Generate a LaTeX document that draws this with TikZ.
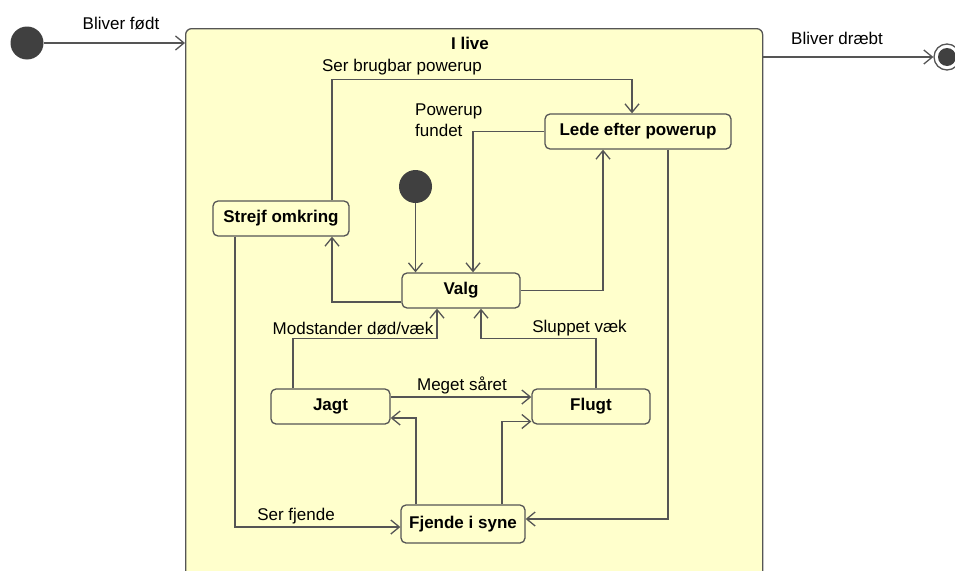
\documentclass[tikz,border=0pt]{standalone}
\usepackage{fontspec}
\setmainfont{Liberation Sans}
\usetikzlibrary{arrows.meta}
\definecolor{statefill}{HTML}{FFFFCC}
\definecolor{edgegray}{HTML}{555555}
\definecolor{dotgray}{HTML}{404040}

\begin{document}
\begin{tikzpicture}[x=1pt,y=-1pt,
  state/.style={draw=edgegray, fill=statefill, line width=1.3pt, rounded corners=5pt,
    font=\fontsize{17}{20}\selectfont\bfseries, inner sep=0pt},
  trans/.style={draw=edgegray, line width=1.3pt,
    -{Straight Barb[length=8.5pt,width=14pt,line width=1.3pt]}},
  lbl/.style={font=\fontsize{17}{21}\selectfont, inner sep=0pt, text=black},
  initdot/.style={circle, fill=dotgray, minimum size=33pt, inner sep=0pt}]
\useasboundingbox (0,0) rectangle (955,570);

% composite state
\node[draw=edgegray, fill=statefill, line width=1.3pt, rounded corners=6pt,
      minimum width=577pt, minimum height=580pt, anchor=north west, inner sep=0pt]
      (alive) at (185,28) {};
\node[lbl, font=\fontsize{17}{21}\selectfont\bfseries] (alivetitle) at (470,43) {I live};

% outer start and end
\node[initdot] (start) at (27,43) {};
\node[circle, draw=edgegray, fill=white, line width=1.3pt, minimum size=26pt, inner sep=0pt] (final) at (947,57) {};
\fill[dotgray] (final.center) circle (9pt);

% inner states
\node[initdot] (init) at (415.5,186.5) {};
\node[state, minimum width=186pt, minimum height=35pt] (lede) at (638,131.5) {Lede efter powerup};
\node[state, minimum width=136pt, minimum height=35pt] (strejf) at (281,218.5) {Strejf omkring};
\node[state, minimum width=118pt, minimum height=35pt] (valg) at (461,290.5) {Valg};
\node[state, minimum width=119pt, minimum height=35pt] (jagt) at (330.5,406.5) {Jagt};
\node[state, minimum width=118pt, minimum height=35pt] (flugt) at (591,406.5) {Flugt};
\node[state, minimum width=124pt, minimum height=38pt] (fjende) at (463,524) {Fjende i syne};

% transitions
\draw[trans] (start) -- (start -| alive.west);
\draw[trans] (final -| alive.east) -- (final.west);
\draw[trans] (init) -- (init |- valg.north);
\draw[trans] (lede.west) -| ([xshift=12pt]valg.north);
\draw[trans] (valg.east) -| ([xshift=-35pt]lede.south);
\draw[trans] ([yshift=-11.5pt]valg.west) -| ([xshift=51pt]strejf.south);
\draw[trans] ([xshift=51pt]strejf.north) |- ([xshift=-6pt,yshift=34pt]lede.north) -- ([xshift=-6pt]lede.north);
\draw[trans] ([xshift=-46pt]strejf.south) |- ([yshift=-3pt]fjende.west);
\draw[trans] ([xshift=30pt]lede.south) |- ([yshift=5pt]fjende.east);
\draw[trans] ([xshift=-37.5pt]jagt.north) |- ([xshift=-24pt,yshift=-30pt]valg.south) -- ([xshift=-24pt]valg.south);
\draw[trans] ([xshift=5pt]flugt.north) |- ([xshift=20pt,yshift=-30pt]valg.south) -- ([xshift=20pt]valg.south);
\draw[trans] ([yshift=9.5pt]jagt.east) -- ([yshift=9.5pt]flugt.west);
\draw[trans] ([xshift=-47pt]fjende.north) |- ([yshift=-11.5pt]jagt.east);
\draw[trans] ([xshift=39pt]fjende.north) |- ([yshift=-15pt]flugt.west);

% transition labels
\node[lbl] (lborn) at (121,23) {Bliver født};
\node[lbl] (lkilled) at (837,38) {Bliver dræbt};
\node[lbl] (lpower) at (402,67) {Ser brugbar powerup};
\node[lbl, align=left, anchor=north west] (lfound) at (415,104) {Powerup\\fundet};
\node[lbl] (lgone) at (353,328) {Modstander død/væk};
\node[lbl] (lescaped) at (579.5,328) {Sluppet væk};
\node[lbl] (lhurt) at (462,385) {Meget såret};
\node[lbl] (lenemy) at (296,516) {Ser fjende};
\end{tikzpicture}
\end{document}
